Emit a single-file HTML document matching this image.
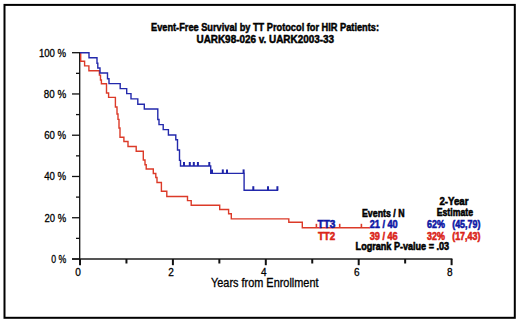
<!DOCTYPE html>
<html><head><meta charset="utf-8"><style>
html,body{margin:0;padding:0;background:#fff;width:520px;height:322px;overflow:hidden}
svg{display:block;position:absolute;left:0;top:0}
text{font-family:"Liberation Sans",sans-serif}
</style></head><body>
<svg width="520" height="322" viewBox="0 0 520 322">
<rect x="0" y="0" width="520" height="322" fill="#fff"/>
<rect x="4.5" y="4.9" width="510.3" height="312.9" fill="none" stroke="#000" stroke-width="2"/>
<g stroke="#111" stroke-width="1.3" fill="none">
<line x1="79.7" y1="52.7" x2="79.7" y2="265" /><line x1="72" y1="258.9" x2="452.4" y2="258.9" stroke-width="1.5" stroke="#1c1c1c"/><line x1="72" y1="259.00" x2="80" y2="259.00" /><line x1="72" y1="217.74" x2="80" y2="217.74" /><line x1="72" y1="176.48" x2="80" y2="176.48" /><line x1="72" y1="135.22" x2="80" y2="135.22" /><line x1="72" y1="93.96" x2="80" y2="93.96" /><line x1="72" y1="52.70" x2="80" y2="52.70" /><line x1="76" y1="238.37" x2="80" y2="238.37" /><line x1="76" y1="197.11" x2="80" y2="197.11" /><line x1="76" y1="155.85" x2="80" y2="155.85" /><line x1="76" y1="114.59" x2="80" y2="114.59" /><line x1="76" y1="73.33" x2="80" y2="73.33" /><line x1="80.00" y1="259" x2="80.00" y2="265.2" stroke-width="2"/><line x1="172.90" y1="259" x2="172.90" y2="265.2" stroke-width="2"/><line x1="265.80" y1="259" x2="265.80" y2="265.2" stroke-width="2"/><line x1="358.70" y1="259" x2="358.70" y2="265.2" stroke-width="2"/><line x1="451.60" y1="259" x2="451.60" y2="265.2" stroke-width="2"/><line x1="126.45" y1="259" x2="126.45" y2="263.5" stroke-width="2"/><line x1="219.35" y1="259" x2="219.35" y2="263.5" stroke-width="2"/><line x1="312.25" y1="259" x2="312.25" y2="263.5" stroke-width="2"/><line x1="405.15" y1="259" x2="405.15" y2="263.5" stroke-width="2"/>
</g>
<g fill="none" stroke-width="1.4" stroke-linejoin="miter">
<polyline points="80,52.7 80.7,52.7 80.7,61.3 84.6,61.3 84.6,65.9 88.9,65.9 88.9,70.7 99.4,70.7 99.4,75.1 100.5,75.1 100.5,80 101.4,80 101.4,83.8 106.5,83.8 106.5,93 108.6,93 108.6,97.4 115.4,97.4 115.4,107 117,107 117,114 118,114 118,119.4 119,119.4 119,128 120,128 120,137.2 123.9,137.2 123.9,141.5 128,141.5 128,146.5 136.2,146.5 136.2,151.2 143.3,151.2 143.3,160 145,160 145,164.8 146.2,164.8 146.2,169 153.3,169 153.3,173.5 155.8,173.5 155.8,177.5 157,177.5 157,182.5 161.4,182.5 161.4,191.2 166.8,191.2 166.8,196.5 187.5,196.5 187.5,200.6 191.2,200.6 191.2,205.2 219.7,205.2 219.7,209.5 228.6,209.5 228.6,213.8 231.3,213.8 231.3,218.9 288.8,218.9 288.8,222.3 302.3,222.3 302.3,227.8 370,227.8" stroke="#dc3a28"/>
<g stroke="#dc3a28" stroke-width="1.6"><line x1="316.4" y1="227.8" x2="316.4" y2="223.8" /><line x1="339.7" y1="227.8" x2="339.7" y2="223.8" /><line x1="361.4" y1="227.8" x2="361.4" y2="223.8" /></g>
<polyline points="80,52.7 89,52.7 89,57.8 97,57.8 97,63.2 97.8,63.2 97.8,68 100,68 100,73 107.5,73 107.5,78.8 109,78.8 109,83.6 120.2,83.6 120.2,88.6 126.7,88.6 126.7,93.6 131,93.6 131,98.9 137.8,98.9 137.8,104.2 144.3,104.2 144.3,109 157.8,109 157.8,119.5 159,119.5 159,124.6 163.2,124.6 163.2,129.6 168.4,129.6 168.4,135 175.8,135 175.8,139.8 177.5,139.8 177.5,150 179.5,150 179.5,160.4 180.5,160.4 180.5,166 210.7,166 210.7,173.4 244.1,173.4 244.1,190.2 278.2,190.2" stroke="#2329ac"/>
<g stroke="#1e24a8" stroke-width="2"><line x1="184" y1="166" x2="184" y2="162" /><line x1="189.8" y1="166" x2="189.8" y2="162" /><line x1="193.8" y1="166" x2="193.8" y2="162" /><line x1="197.9" y1="166" x2="197.9" y2="162" /><line x1="209.3" y1="166" x2="209.3" y2="162" /><line x1="212" y1="173.4" x2="212" y2="169.4" /><line x1="222.8" y1="173.4" x2="222.8" y2="169.4" /><line x1="227.0" y1="173.4" x2="227.0" y2="169.4" /><line x1="243.6" y1="173.4" x2="243.6" y2="169.4" /><line x1="253.3" y1="190.2" x2="253.3" y2="186.2" /><line x1="268" y1="190.2" x2="268" y2="186.2" /><line x1="277.4" y1="190.2" x2="277.4" y2="186.2" /></g>
</g>
<g>
<text x="151" y="31.2" font-size="10.2" fill="#000" font-weight="bold" stroke="#000" stroke-width="0.45" textLength="228" lengthAdjust="spacingAndGlyphs" text-anchor="start" >Event-Free Survival by TT Protocol for HIR Patients:</text><text x="196.5" y="43.1" font-size="10.2" fill="#000" font-weight="bold" stroke="#000" stroke-width="0.45" textLength="137.5" lengthAdjust="spacingAndGlyphs" text-anchor="start" >UARK98-026 v. UARK2003-33</text><text x="66.2" y="56.59999999999999" font-size="11.2" fill="#000" font-weight="normal" stroke="#000" stroke-width="0.3" textLength="27.3" lengthAdjust="spacingAndGlyphs" text-anchor="end" >100 %</text><text x="66.2" y="97.85999999999999" font-size="11.2" fill="#000" font-weight="normal" stroke="#000" stroke-width="0.3" textLength="22.4" lengthAdjust="spacingAndGlyphs" text-anchor="end" >80 %</text><text x="66.2" y="139.11999999999998" font-size="11.2" fill="#000" font-weight="normal" stroke="#000" stroke-width="0.3" textLength="22.0" lengthAdjust="spacingAndGlyphs" text-anchor="end" >60 %</text><text x="66.2" y="180.38" font-size="11.2" fill="#000" font-weight="normal" stroke="#000" stroke-width="0.3" textLength="22.0" lengthAdjust="spacingAndGlyphs" text-anchor="end" >40 %</text><text x="66.2" y="221.64000000000001" font-size="11.2" fill="#000" font-weight="normal" stroke="#000" stroke-width="0.3" textLength="21.6" lengthAdjust="spacingAndGlyphs" text-anchor="end" >20 %</text><text x="66.2" y="262.9" font-size="11.2" fill="#000" font-weight="normal" stroke="#000" stroke-width="0.3" textLength="15.0" lengthAdjust="spacingAndGlyphs" text-anchor="end" >0 %</text><text x="78.1" y="275.8" font-size="11.4" fill="#000" font-weight="normal" stroke="#000" stroke-width="0.3" textLength="5.6" lengthAdjust="spacingAndGlyphs" text-anchor="middle" >0</text><text x="171.0" y="275.8" font-size="11.4" fill="#000" font-weight="normal" stroke="#000" stroke-width="0.3" textLength="5.6" lengthAdjust="spacingAndGlyphs" text-anchor="middle" >2</text><text x="263.90000000000003" y="275.8" font-size="11.4" fill="#000" font-weight="normal" stroke="#000" stroke-width="0.3" textLength="5.6" lengthAdjust="spacingAndGlyphs" text-anchor="middle" >4</text><text x="356.80000000000007" y="275.8" font-size="11.4" fill="#000" font-weight="normal" stroke="#000" stroke-width="0.3" textLength="5.6" lengthAdjust="spacingAndGlyphs" text-anchor="middle" >6</text><text x="449.70000000000005" y="275.8" font-size="11.4" fill="#000" font-weight="normal" stroke="#000" stroke-width="0.3" textLength="5.6" lengthAdjust="spacingAndGlyphs" text-anchor="middle" >8</text><text x="211.0" y="286.6" font-size="12.4" fill="#000" font-weight="normal" stroke="#000" stroke-width="0.3" textLength="107.5" lengthAdjust="spacingAndGlyphs" text-anchor="start" >Years from Enrollment</text><text x="439.4" y="205.2" font-size="10.2" fill="#000" font-weight="bold" stroke="#000" stroke-width="0.55" textLength="29" lengthAdjust="spacingAndGlyphs" text-anchor="start" >2-Year</text><text x="436.7" y="216.4" font-size="10.2" fill="#000" font-weight="bold" stroke="#000" stroke-width="0.55" textLength="36.3" lengthAdjust="spacingAndGlyphs" text-anchor="start" >Estimate</text><text x="362" y="216.5" font-size="10.2" fill="#000" font-weight="bold" stroke="#000" stroke-width="0.55" textLength="42.5" lengthAdjust="spacingAndGlyphs" text-anchor="start" >Events / N</text><text x="317.6" y="227.7" font-size="10.2" fill="#0c16a4" font-weight="bold" stroke="#0c16a4" stroke-width="0.55" textLength="17.8" lengthAdjust="spacingAndGlyphs" text-anchor="start" >TT3</text><text x="369.7" y="227.9" font-size="10.2" fill="#0c16a4" font-weight="bold" stroke="#0c16a4" stroke-width="0.55" textLength="28.0" lengthAdjust="spacingAndGlyphs" text-anchor="start" >21 / 40</text><text x="427" y="227.9" font-size="10.2" fill="#0c16a4" font-weight="bold" stroke="#0c16a4" stroke-width="0.55" textLength="17.8" lengthAdjust="spacingAndGlyphs" text-anchor="start" >62%</text><text x="452.2" y="228.0" font-size="10.2" fill="#0c16a4" font-weight="bold" stroke="#0c16a4" stroke-width="0.55" textLength="28.2" lengthAdjust="spacingAndGlyphs" text-anchor="start" >(45,79)</text><text x="317.9" y="239.5" font-size="10.2" fill="#da2418" font-weight="bold" stroke="#da2418" stroke-width="0.55" textLength="17.3" lengthAdjust="spacingAndGlyphs" text-anchor="start" >TT2</text><text x="369.7" y="239.5" font-size="10.2" fill="#da2418" font-weight="bold" stroke="#da2418" stroke-width="0.55" textLength="28.0" lengthAdjust="spacingAndGlyphs" text-anchor="start" >39 / 46</text><text x="427" y="239.5" font-size="10.2" fill="#da2418" font-weight="bold" stroke="#da2418" stroke-width="0.55" textLength="17.8" lengthAdjust="spacingAndGlyphs" text-anchor="start" >32%</text><text x="452.2" y="239.6" font-size="10.2" fill="#da2418" font-weight="bold" stroke="#da2418" stroke-width="0.55" textLength="28.2" lengthAdjust="spacingAndGlyphs" text-anchor="start" >(17,43)</text><text x="355.6" y="249.9" font-size="10.2" fill="#000" font-weight="bold" stroke="#000" stroke-width="0.55" textLength="93.5" lengthAdjust="spacingAndGlyphs" text-anchor="start" >Logrank P-value = .03</text>
</g>
</svg>
</body></html>
